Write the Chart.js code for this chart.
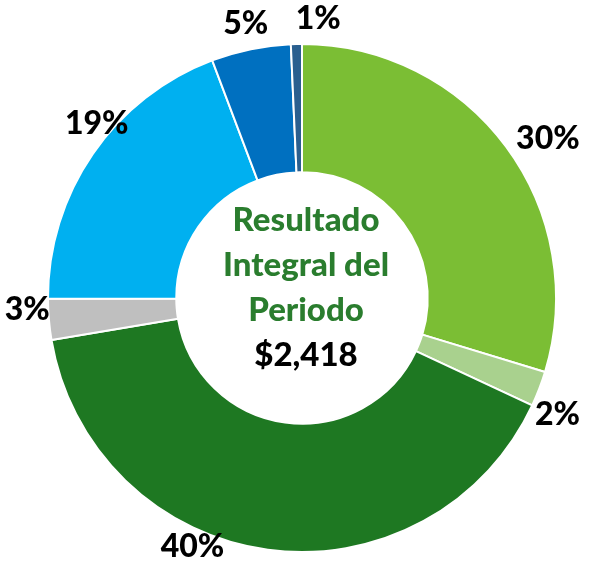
<!DOCTYPE html>
<html>
<head>
<meta charset="utf-8">
<script src="https://cdn.jsdelivr.net/npm/chart.js@4.4.1/dist/chart.umd.min.js"></script>
<style>
    html, body { margin: 0; padding: 0; background: #fff; }
    #wrap { width: 590px; height: 568px; position: relative; }
</style>
</head>
<body>
<div id="wrap"><canvas id="resultChart"></canvas></div>
<script>
// datos del grafico
const categories = ['Segmento 1', 'Segmento 2', 'Segmento 3', 'Segmento 4', 'Segmento 5', 'Segmento 6', 'Segmento 7'];
const values = [29.7, 2.25, 40.4, 2.6, 19.3, 5.05, 0.7];
const centerTitle = ['Resultado', 'Integral del', 'Periodo'];
const centerTotal = '$2,418';

const sliceColors = ['#7BBE34', '#A9D18E', '#1E7822', '#BFBFBF', '#00B0F0', '#0070C0', '#2A5F8F'];

// etiquetas de porcentaje fuera del anillo
const sliceLabels = {
    id: 'sliceLabels',
    afterDatasetsDraw(chart, args, opts) {
        const ctx = chart.ctx;
        const meta = chart.getDatasetMeta(0);
        const data = chart.data.datasets[0].data;
        const total = data.reduce((a, b) => a + b, 0);

        ctx.save();
        ctx.font = opts.font;
        ctx.fillStyle = opts.color;
        ctx.textAlign = 'center';
        ctx.textBaseline = 'middle';

        meta.data.forEach((arc, i) => {
            const p = arc.getProps(['x', 'y', 'startAngle', 'endAngle', 'outerRadius'], true);
            const ang = (p.startAngle + p.endAngle) / 2 + opts.shift[i] * Math.PI / 180;
            const r = p.outerRadius + opts.gap[i];
            const text = Math.round(data[i] / total * 100) + '%';
            ctx.fillText(text, p.x + r * Math.cos(ang), p.y + r * Math.sin(ang));
        });
        ctx.restore();
    }
};

// texto en el centro
const centerText = {
    id: 'centerText',
    afterDatasetsDraw(chart, args, opts) {
        const ctx = chart.ctx;
        const arc = chart.getDatasetMeta(0).data[0];
        const cx = arc.x + opts.dx;
        const cy = arc.y;

        ctx.save();
        ctx.textAlign = 'center';
        ctx.textBaseline = 'alphabetic';
        ctx.font = opts.font;

        const lines = centerTitle.concat([centerTotal]);
        const start = -(lines.length - 1) / 2 * opts.lineHeight;

        lines.forEach((line, i) => {
            ctx.fillStyle = i < centerTitle.length ? opts.titleColor : opts.totalColor;
            ctx.fillText(line, cx, cy + start + i * opts.lineHeight + opts.baseline);
        });
        ctx.restore();
    }
};

new Chart(document.getElementById('resultChart'), {
    type: 'doughnut',
    data: {
        labels: categories,
        datasets: [{
            data: values,
            backgroundColor: sliceColors,
            borderColor: '#ffffff',
            borderWidth: 2
        }]
    },
    options: {
        responsive: true,
        maintainAspectRatio: false,
        animation: false,
        cutout: '49.5%',
        layout: {
            padding: { left: 47, right: 33, top: 43, bottom: 15 }
        },
        plugins: {
            legend: { display: false },
            tooltip: { enabled: false },
            sliceLabels: {
                font: '900 32px Lato',
                color: '#000000',
                shift: [3.6, 3.6, 16, 2.5, 5.7, 0, 4.6],
                gap: [39, 27, 18, 21, 15, 26, 26]
            },
            centerText: {
                font: '900 33px Lato',
                titleColor: '#2A7D2E',
                totalColor: '#000000',
                lineHeight: 45,
                baseline: 0,
                dx: 4
            }
        }
    },
    plugins: [sliceLabels, centerText]
});
</script>
</body>
</html>
